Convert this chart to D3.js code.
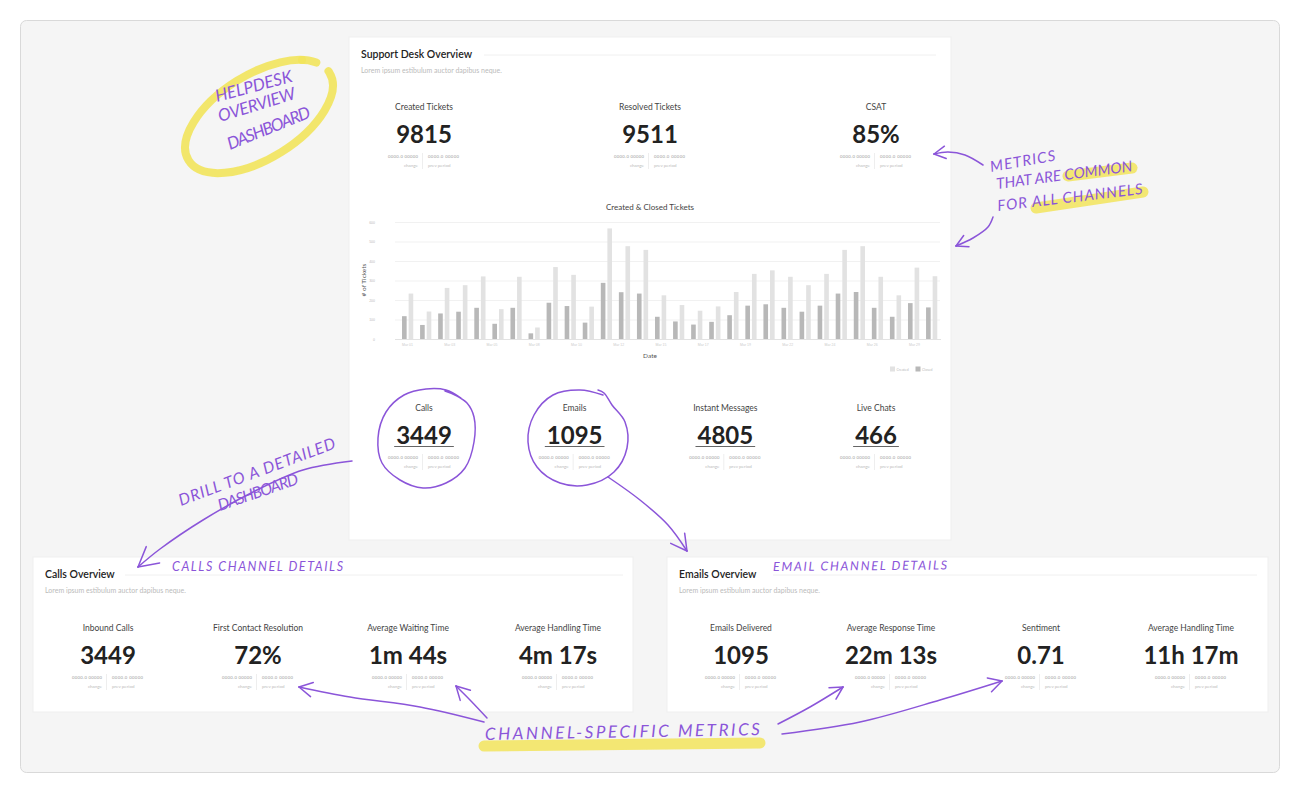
<!DOCTYPE html>
<html>
<head>
<meta charset="utf-8">
<script src="https://cdn.jsdelivr.net/npm/d3@7"></script>
<style>
html, body { margin: 0; padding: 0; background: #fff; }
svg { display: block; font-family: Lato, "Noto Sans", sans-serif; }
</style>
</head>
<body>
<svg id="board" width="1300" height="795"></svg>
<script>
// ---- data ----
var dates = ["Mar 01","Mar 02","Mar 03","Mar 04","Mar 05","Mar 06","Mar 07","Mar 08","Mar 09","Mar 10",
             "Mar 11","Mar 12","Mar 13","Mar 14","Mar 15","Mar 16","Mar 17","Mar 18","Mar 19","Mar 20",
             "Mar 21","Mar 22","Mar 23","Mar 24","Mar 25","Mar 26","Mar 27","Mar 28","Mar 29","Mar 30"];
var createdTickets = [233,141,262,276,321,153,319,59,369,329,166,567,476,457,224,
                      174,145,167,241,334,352,319,276,334,457,476,319,224,366,322];
var closedTickets  = [117,72,131,140,160,78,160,29,186,169,84,288,240,233,114,
                      90,74,88,122,171,178,160,140,171,233,241,160,114,184,162];
var yTicks = [0,100,200,300,400,500,600];
var dateTicks = ["Mar 01","Mar 03","Mar 05","Mar 08","Mar 10","Mar 12","Mar 15",
                 "Mar 17","Mar 19","Mar 22","Mar 24","Mar 26","Mar 29"];

var topLabels = ["Created Tickets","Resolved Tickets","CSAT"];
var topValues = ["9815","9511","85%"];
var channelLabels = ["Calls","Emails","Instant Messages","Live Chats"];
var channelValues = ["3449","1095","4805","466"];
var callsLabels = ["Inbound Calls","First Contact Resolution","Average Waiting Time","Average Handling Time"];
var callsValues = ["3449","72%","1m 44s","4m 17s"];
var emailLabels = ["Emails Delivered","Average Response Time","Sentiment","Average Handling Time"];
var emailValues = ["1095","22m 13s","0.71","11h 17m"];

var svg = d3.select("#board");
var PURPLE = "#8b55d9", YELLOW = "#f2e45c";

// ---- background and panels ----
svg.append("rect").attr("x",20.5).attr("y",20.5).attr("width",1259).attr("height",752)
   .attr("rx",6).attr("fill","#f5f5f5").attr("stroke","#d9d9d9");

var panels = [
  {x:349, y:37, w:602, h:503, title:"Support Desk Overview", lineFrom:484, lineTo:936},
  {x:33, y:557, w:600, h:155, title:"Calls Overview", lineFrom:125, lineTo:623},
  {x:667, y:557, w:601, h:155, title:"Emails Overview", lineFrom:773, lineTo:1257}
];
panels.forEach(function(p) {
  svg.append("rect").attr("x",p.x).attr("y",p.y).attr("width",p.w).attr("height",p.h)
     .attr("fill","#fff").attr("stroke","#efefef");
  var ty = p.y + 21;
  svg.append("text").attr("x",p.x+12).attr("y",ty).attr("font-size",10.5).attr("font-weight",600)
     .attr("fill","#222").text(p.title);
  svg.append("line").attr("x1",p.lineFrom).attr("x2",p.lineTo).attr("y1",ty-3).attr("y2",ty-3)
     .attr("stroke","#f0f0f0");
  svg.append("text").attr("x",p.x+12).attr("y",ty+15).attr("font-size",7).attr("fill","#bbb")
     .text("Lorem ipsum estibulum auctor dapibus neque.");
});

// ---- kpi blocks ----
function drawKpis(labels, values, range, y0, underline) {
  var px = d3.scalePoint().domain(labels).range(range);
  var g = svg.append("g");
  labels.forEach(function(lab, i) {
    var k = g.append("g").attr("transform","translate(" + px(lab) + "," + y0 + ")");
    k.append("text").attr("text-anchor","middle").attr("font-size",8.5).attr("fill","#444").text(lab);
    var v = k.append("text").attr("text-anchor","middle").attr("y",33).attr("font-size",24)
       .attr("font-weight",700).attr("fill","#222").text(values[i]);
    if (underline) {
      var w = v.node().getComputedTextLength() + 4;
      k.append("line").attr("x1",-w/2).attr("x2",w/2).attr("y1",35.5).attr("y2",35.5)
       .attr("stroke","#666").attr("stroke-width",1);
    }
    k.append("text").attr("x",-6).attr("y",48).attr("text-anchor","end").attr("font-size",4.2)
     .attr("fill","#999").attr("textLength",30).text("0000.0 00000");
    k.append("text").attr("x",4).attr("y",48).attr("font-size",4.2)
     .attr("fill","#999").attr("textLength",31).text("0000.0 00000");
    k.append("line").attr("x1",-1.5).attr("x2",-1.5).attr("y1",43).attr("y2",59).attr("stroke","#eee");
    k.append("text").attr("x",-6).attr("y",57).attr("text-anchor","end").attr("font-size",4.5)
     .attr("fill","#bbb").text("change");
    k.append("text").attr("x",4).attr("y",57).attr("font-size",4.5)
     .attr("fill","#bbb").text("prev period");
  });
}
drawKpis(topLabels, topValues, [424,876], 110, false);
drawKpis(channelLabels, channelValues, [424,876], 411, true);
drawKpis(callsLabels, callsValues, [108,558], 631, false);
drawKpis(emailLabels, emailValues, [741,1191], 631, false);

// ---- bar chart ----
var x = d3.scaleBand().domain(dates).range([398.6, 940.7]);
var xSub = d3.scaleBand().domain(["closed","created"]).range([0, x.bandwidth()])
             .paddingInner(0.3).paddingOuter(0.52);
var y = d3.scaleLinear().domain([0,600]).range([339,222]);
var xLab = d3.scalePoint().domain(dateTicks).range([407,914]);

var chart = svg.append("g");
chart.append("text").attr("x",650).attr("y",210).attr("text-anchor","middle")
     .attr("font-size",8).attr("fill","#444").text("Created & Closed Tickets");

var yAxis = chart.append("g").attr("transform","translate(395,0)")
     .call(d3.axisLeft(y).tickValues(yTicks).tickSize(-545).tickPadding(20));
yAxis.select(".domain").remove();
yAxis.selectAll(".tick line").attr("stroke","#f1f1f1");
yAxis.selectAll(".tick text").attr("font-size",3.5).attr("fill","#bbb");

var xAxis = chart.append("g").attr("transform","translate(0,339)")
     .call(d3.axisBottom(xLab).tickSize(0).tickPadding(5));
xAxis.select(".domain").remove();
xAxis.selectAll(".tick text").attr("font-size",3.5).attr("fill","#ccc");
chart.append("line").attr("x1",395).attr("x2",941).attr("y1",339.5).attr("y2",339.5).attr("stroke","#e2e2e2");

var pairs = chart.selectAll("g.pair").data(dates).join("g").attr("class","pair")
     .attr("transform", function(d) { return "translate(" + x(d) + ",0)"; });
pairs.append("rect").attr("x", xSub("closed")).attr("width", xSub.bandwidth())
     .attr("y", function(d,i) { return y(closedTickets[i]); })
     .attr("height", function(d,i) { return y(0) - y(closedTickets[i]); })
     .attr("fill","#b8b8b8");
pairs.append("rect").attr("x", xSub("created")).attr("width", xSub.bandwidth())
     .attr("y", function(d,i) { return y(createdTickets[i]); })
     .attr("height", function(d,i) { return y(0) - y(createdTickets[i]); })
     .attr("fill","#e2e2e2");

chart.append("text").attr("transform","translate(366,280) rotate(-90)").attr("text-anchor","middle")
     .attr("font-size",6.5).attr("fill","#555").text("# of Tickets");
chart.append("text").attr("x",650).attr("y",358).attr("text-anchor","middle")
     .attr("font-size",6.5).attr("fill","#555").text("Date");

var legend = [{name:"Created", color:"#e2e2e2", x:890}, {name:"Closed", color:"#b8b8b8", x:915.5}];
legend.forEach(function(l) {
  chart.append("rect").attr("x",l.x).attr("y",366.5).attr("width",5).attr("height",5).attr("fill",l.color);
  chart.append("text").attr("x",l.x+6.5).attr("y",370.5).attr("font-size",3.5).attr("fill","#bbb").text(l.name);
});

// ---- annotations ----
var ann = svg.append("g").attr("fill","none").attr("stroke-linecap","round").attr("stroke-linejoin","round");

// highlighter strokes
ann.append("ellipse").attr("cx",259).attr("cy",116.5).attr("rx",83).attr("ry",42)
   .attr("transform","rotate(-32 259 116.5)").attr("stroke",YELLOW).attr("stroke-width",8)
   .attr("stroke-dasharray","386 15").attr("opacity",0.9);
ann.append("circle").attr("cx",302).attr("cy",60).attr("r",4).attr("fill",YELLOW).attr("opacity",0.9);
var highlights = [
  [[1068,176],[1132,168]],
  [[1036,208],[1143,192]],
  [[484,746],[760,743]]
];
highlights.forEach(function(h) {
  ann.append("path").attr("d", d3.line()(h)).attr("stroke",YELLOW).attr("stroke-width",11).attr("opacity",0.85);
});

// hand-drawn loops around Calls and Emails
var loops = [
  [[461,398],[446,390],[426,389],[404,395],[386,412],[378,438],[382,463],[400,480],[423,488],
   [446,483],[465,468],[474,442],[474,417],[467,403],[455,395],[445,391]],
  [[603,395],[580,390],[553,395],[534,415],[528,442],[537,467],[560,483],[587,485],[614,472],
   [627,448],[625,422],[612,405],[604,393],[598,390]]
];
var curved = d3.line().curve(d3.curveCatmullRom);
loops.forEach(function(pts) {
  ann.append("path").attr("d", curved(pts)).attr("stroke",PURPLE).attr("stroke-width",1.5);
});

// arrows
var arrows = [
  {pts:[[983,165],[965,155],[948,152],[934,154]], head:13},
  {pts:[[993,217],[988,227],[973,238],[956,246]], head:13},
  {pts:[[352,461],[303,470],[253,492],[203,520],[160,549],[138,567]], head:22},
  {pts:[[608,477],[640,500],[668,525],[687,551]], head:18},
  {pts:[[484,722],[420,707],[350,697],[299,687]], head:15},
  {pts:[[487,718],[470,700],[456,686]], head:15},
  {pts:[[778,724],[810,707],[843,687]], head:14},
  {pts:[[782,734],[860,722],[940,700],[1002,681]], head:15}
];
arrows.forEach(function(a) {
  ann.append("path").attr("d", curved(a.pts)).attr("stroke",PURPLE).attr("stroke-width",1.5);
  var tip = a.pts[a.pts.length-1], prev = a.pts[a.pts.length-2];
  var ang = Math.atan2(prev[1]-tip[1], prev[0]-tip[0]);
  [-0.5, 0.5].forEach(function(s) {
    ann.append("line").attr("x1",tip[0]).attr("y1",tip[1])
       .attr("x2",tip[0] + a.head*Math.cos(ang+s)).attr("y2",tip[1] + a.head*Math.sin(ang+s))
       .attr("stroke",PURPLE).attr("stroke-width",1.5);
  });
});

// handwritten notes
var notes = [
  {t:"HELPDESK", x:217, y:102, a:-15, len:79, fs:17},
  {t:"OVERVIEW", x:220, y:122, a:-17, len:80, fs:17},
  {t:"DASHBOARD", x:230, y:150, a:-22, len:88, fs:17},
  {t:"METRICS", x:991, y:172, a:-10, len:66, fs:15},
  {t:"THAT ARE COMMON", x:997, y:189, a:-7.5, len:137, fs:15},
  {t:"FOR ALL CHANNELS", x:998, y:211, a:-6.7, len:146, fs:15},
  {t:"DRILL TO A DETAILED", x:181, y:506, a:-20.5, len:166, fs:16},
  {t:"DASHBOARD", x:220, y:511, a:-19, len:84, fs:16},
  {t:"CALLS CHANNEL DETAILS", x:172, y:571, a:0, len:171, fs:12.5},
  {t:"EMAIL CHANNEL DETAILS", x:773, y:571, a:-0.5, len:174, fs:12.5},
  {t:"CHANNEL-SPECIFIC METRICS", x:485, y:740, a:-1, len:275, fs:17}
];
notes.forEach(function(n) {
  svg.append("text").attr("transform","translate(" + n.x + "," + n.y + ") rotate(" + n.a + ")")
     .attr("font-family","Lato, 'Liberation Sans', sans-serif")
     .attr("font-style","italic").attr("font-weight",400).attr("font-size",n.fs).attr("fill",PURPLE)
     .attr("textLength",n.len).attr("lengthAdjust","spacing").text(n.t);
});
</script>
</body>
</html>
